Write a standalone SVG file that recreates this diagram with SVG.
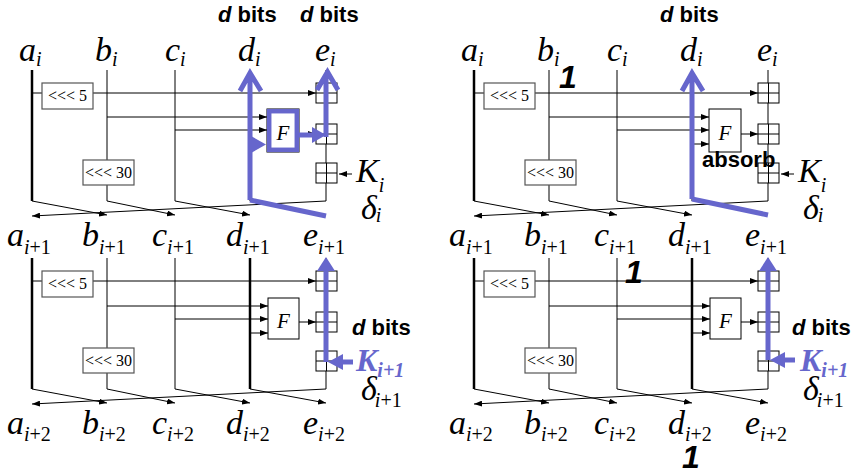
<svg xmlns="http://www.w3.org/2000/svg" width="858" height="474" viewBox="0 0 858 474">
<defs>
<marker id="ah" viewBox="0 0 8 6" refX="8" refY="3" markerWidth="8" markerHeight="6" markerUnits="userSpaceOnUse" orient="auto"><path d="M0,0 L8,3 L0,6 z" fill="#000"/></marker>
<style>
.ln{stroke:#000;stroke-width:1;fill:none}
.thk{stroke:#000;stroke-width:2.5;fill:none}
.ar{marker-end:url(#ah)}
.box{fill:#fff;stroke:#555;stroke-width:1.2}
.fb{fill:#fff;stroke:#000;stroke-width:1}
.blue{stroke:#6666cc;stroke-width:5;fill:none}
.bf{fill:#6666cc}
.lbl{font-family:"Liberation Serif",serif;font-style:italic;font-size:34px;fill:#000}
.sub{font-size:20px}
.up{font-style:normal}
.rot{font-family:"Liberation Serif",serif;font-size:16px;text-anchor:middle}
.ft{font-family:"Liberation Serif",serif;font-style:italic;font-size:21px;text-anchor:middle}
.bits{font-family:"Liberation Sans",Arial,sans-serif;font-weight:bold;font-size:22px}
.it{font-style:italic}
.one{font-family:"Liberation Sans",Arial,sans-serif;font-weight:bold;font-style:italic;font-size:32px}
.kb{font-family:"Liberation Serif",serif;font-weight:bold;font-style:italic;font-size:32px;fill:#6666cc}
</style>
</defs>
<rect width="858" height="474" fill="#fff"/>

<!-- ===== top-left panel ===== -->
<g id="p1">
 <g id="p1-wires">
  <path class="thk" d="M32,70 V201"/>
  <path class="ln" d="M107,70 V201 M175,70 V201 M250,70 V201 M326,70 V201"/>
  <path class="ln ar" d="M32,93 H316"/>
  <path class="ln ar" d="M107,117 H267"/>
  <path class="ln ar" d="M175,130 H267"/>
  <path class="ln ar" d="M299,134 H316"/>
  <path class="ln ar" d="M352,174 H339"/>
  <path class="ln ar" d="M32,201 L107,215"/>
  <path class="ln ar" d="M107,201 L175,215"/>
  <path class="ln ar" d="M175,201 L250,215"/>
  <path class="ln ar" d="M326,201 L32,216"/>
 </g>
 <g id="p1-rot5"><rect class="box" x="42" y="83" width="51" height="26"/><text class="rot" x="67.5" y="101">&lt;&lt;&lt; 5</text></g>
 <g id="p1-rot30"><rect class="box" x="83" y="160" width="51" height="25"/><text class="rot" x="108.5" y="178">&lt;&lt;&lt; 30</text></g>
 <g id="p1-F"><rect class="fb" x="267" y="109" width="32" height="43"/><text class="ft" x="283" y="140">F</text></g>
 <g id="p1-add1"><rect class="fb" x="316" y="83" width="21" height="20"/><path class="ln" d="M316,93 H337 M326.5,83 V103"/></g>
 <g id="p1-add2"><rect class="fb" x="316" y="124" width="21" height="20"/><path class="ln" d="M316,134 H337 M326.5,124 V144"/></g>
 <g id="p1-add3"><rect class="fb" x="316" y="163" width="21" height="20"/><path class="ln" d="M316,173 H337 M326.5,163 V183"/></g>
 <g id="p1-labels">
  <text class="lbl" x="19" y="61">a<tspan class="sub" dy="5">i</tspan></text>
  <text class="lbl" x="95" y="61">b<tspan class="sub" dy="5">i</tspan></text>
  <text class="lbl" x="165" y="61">c<tspan class="sub" dy="5">i</tspan></text>
  <text class="lbl" x="238" y="61">d<tspan class="sub" dy="5">i</tspan></text>
  <text class="lbl" x="315" y="61">e<tspan class="sub" dy="5">i</tspan></text>
  <text class="lbl" x="356" y="182">K<tspan class="sub" dy="10">i</tspan></text>
  <text class="lbl" x="361" y="219">δ<tspan class="sub" dy="3" dx="-1">i</tspan></text>
  <text class="bits" x="218" y="22"><tspan class="it">d</tspan> bits</text>
  <text class="bits" x="300" y="22"><tspan class="it">d</tspan> bits</text>
 </g>
 <g id="p1-path">
  <path class="blue" d="M250,200 V75 M240,91 L250,73 L261,91"/>
  <path class="blue" d="M250,200 L326,216"/>
  <rect x="269.2" y="111.2" width="27.6" height="38.6" fill="#fff" stroke="#6666cc" stroke-width="4.5"/>
  <text class="ft" x="283" y="140">F</text>
  <polygon class="bf" points="251,136 266,144.5 251,153"/>
  <path class="blue" d="M299,135 H313"/>
  <polygon class="bf" points="312,127 326,135 312,143"/>
  <path class="blue" d="M326,137 V75 M317,90 L327.5,72 L338,90"/>
 </g>
</g>

<!-- ===== top-right panel ===== -->
<g id="p2" transform="translate(442,0)">
 <g id="p2-wires">
  <path class="thk" d="M32,70 V201"/>
  <path class="ln" d="M107,70 V201 M175,70 V201 M250,70 V201 M326,70 V201"/>
  <path class="ln ar" d="M32,93 H316"/>
  <path class="ln ar" d="M107,117 H267"/>
  <path class="ln ar" d="M175,130 H267"/>
  <path class="ln ar" d="M250,144 H267"/>
  <path class="ln ar" d="M299,134 H316"/>
  <path class="ln ar" d="M352,174 H339"/>
  <path class="ln ar" d="M32,201 L107,215"/>
  <path class="ln ar" d="M107,201 L175,215"/>
  <path class="ln ar" d="M175,201 L250,215"/>
  <path class="ln ar" d="M326,201 L32,216"/>
 </g>
 <g id="p2-rot5"><rect class="box" x="42" y="83" width="51" height="26"/><text class="rot" x="67.5" y="101">&lt;&lt;&lt; 5</text></g>
 <g id="p2-rot30"><rect class="box" x="83" y="160" width="51" height="25"/><text class="rot" x="108.5" y="178">&lt;&lt;&lt; 30</text></g>
 <g id="p2-F"><rect class="fb" x="267" y="109" width="32" height="43"/><text class="ft" x="283" y="140">F</text></g>
 <g id="p2-add1"><rect class="fb" x="316" y="83" width="21" height="20"/><path class="ln" d="M316,93 H337 M326.5,83 V103"/></g>
 <g id="p2-add2"><rect class="fb" x="316" y="124" width="21" height="20"/><path class="ln" d="M316,134 H337 M326.5,124 V144"/></g>
 <g id="p2-add3"><rect class="fb" x="316" y="163" width="21" height="20"/><path class="ln" d="M316,173 H337 M326.5,163 V183"/></g>
 <g id="p2-labels">
  <text class="lbl" x="19" y="61">a<tspan class="sub" dy="5">i</tspan></text>
  <text class="lbl" x="95" y="61">b<tspan class="sub" dy="5">i</tspan></text>
  <text class="lbl" x="165" y="61">c<tspan class="sub" dy="5">i</tspan></text>
  <text class="lbl" x="238" y="61">d<tspan class="sub" dy="5">i</tspan></text>
  <text class="lbl" x="315" y="61">e<tspan class="sub" dy="5">i</tspan></text>
  <text class="lbl" x="356" y="182">K<tspan class="sub" dy="10">i</tspan></text>
  <text class="lbl" x="361" y="219">δ<tspan class="sub" dy="3" dx="-1">i</tspan></text>
  <text class="bits" x="218" y="22"><tspan class="it">d</tspan> bits</text>
  <text class="bits" x="260" y="167" font-size="23">absorb</text>
  <text class="one" x="117" y="88">1</text>
 </g>
 <g id="p2-path">
  <path class="blue" d="M250,199 V75 M240,91 L250,73 L261,91"/>
  <path class="blue" d="M250,199 L326,215"/>
 </g>
</g>

<!-- ===== bottom-left panel ===== -->
<g id="p3" transform="translate(0,188)">
 <g id="p3-wires">
  <path class="thk" d="M32,70 V201 M250,70 V201"/>
  <path class="ln" d="M107,70 V201 M175,70 V201 M326,70 V201"/>
  <path class="ln ar" d="M32,93 H316"/>
  <path class="ln ar" d="M107,118 H268"/>
  <path class="ln ar" d="M175,131 H268"/>
  <path class="ln ar" d="M250,145 H268"/>
  <path class="ln ar" d="M299,134 H316"/>
  <path class="ln ar" d="M32,201 L107,215"/>
  <path class="ln ar" d="M107,201 L175,215"/>
  <path class="ln ar" d="M175,201 L250,215"/>
  <path class="ln ar" d="M250,201 L326,215"/>
  <path class="ln ar" d="M326,201 L32,216"/>
 </g>
 <g id="p3-rot5"><rect class="box" x="42" y="83" width="51" height="26"/><text class="rot" x="67.5" y="101">&lt;&lt;&lt; 5</text></g>
 <g id="p3-rot30"><rect class="box" x="83" y="160" width="51" height="25"/><text class="rot" x="108.5" y="178">&lt;&lt;&lt; 30</text></g>
 <g id="p3-F"><rect class="fb" x="268" y="110" width="31" height="41"/><text class="ft" x="283.5" y="140">F</text></g>
 <g id="p3-add1"><rect class="fb" x="316" y="83" width="21" height="20"/><path class="ln" d="M316,93 H337 M326.5,83 V103"/></g>
 <g id="p3-add2"><rect class="fb" x="316" y="124" width="21" height="20"/><path class="ln" d="M316,134 H337 M326.5,124 V144"/></g>
 <g id="p3-add3"><rect class="fb" x="316" y="163" width="21" height="20"/><path class="ln" d="M316,173 H337 M326.5,163 V183"/></g>
 <g id="p3-labels">
  <text class="lbl" x="7" y="58">a<tspan class="sub" dy="8">i<tspan class="up">+1</tspan></tspan></text>
  <text class="lbl" x="82" y="58">b<tspan class="sub" dy="8">i<tspan class="up">+1</tspan></tspan></text>
  <text class="lbl" x="152" y="58">c<tspan class="sub" dy="8">i<tspan class="up">+1</tspan></tspan></text>
  <text class="lbl" x="226" y="58">d<tspan class="sub" dy="8">i<tspan class="up">+1</tspan></tspan></text>
  <text class="lbl" x="303" y="58">e<tspan class="sub" dy="8">i<tspan class="up">+1</tspan></tspan></text>
  <text class="lbl" x="7" y="246">a<tspan class="sub" dy="7">i<tspan class="up">+2</tspan></tspan></text>
  <text class="lbl" x="82" y="246">b<tspan class="sub" dy="7">i<tspan class="up">+2</tspan></tspan></text>
  <text class="lbl" x="152" y="246">c<tspan class="sub" dy="7">i<tspan class="up">+2</tspan></tspan></text>
  <text class="lbl" x="226" y="246">d<tspan class="sub" dy="7">i<tspan class="up">+2</tspan></tspan></text>
  <text class="lbl" x="303" y="246">e<tspan class="sub" dy="7">i<tspan class="up">+2</tspan></tspan></text>
  <text class="bits" x="352" y="147"><tspan class="it">d</tspan> bits</text>
  <text class="kb" x="356" y="183">K<tspan class="sub" dy="6">i+1</tspan></text>
  <text class="lbl" x="361" y="212">δ<tspan class="sub" dy="7" dx="-2">i<tspan class="up">+1</tspan></tspan></text>
 </g>
 <g id="p3-path">
  <path class="blue" d="M326,174 V80"/>
  <polygon class="bf" points="326,69 335,83 317,83"/>
  <path class="blue" stroke-width="6" d="M353,174 H342"/>
  <polygon class="bf" points="328,174 343,166 343,182"/>
 </g>
</g>

<!-- ===== bottom-right panel ===== -->
<g id="p4" transform="translate(442,188)">
 <g id="p4-wires">
  <path class="thk" d="M32,70 V201 M250,70 V201"/>
  <path class="ln" d="M107,70 V201 M175,70 V201 M326,70 V201"/>
  <path class="ln ar" d="M32,93 H316"/>
  <path class="ln ar" d="M107,118 H268"/>
  <path class="ln ar" d="M175,131 H268"/>
  <path class="ln ar" d="M250,145 H268"/>
  <path class="ln ar" d="M299,134 H316"/>
  <path class="ln ar" d="M32,201 L107,215"/>
  <path class="ln ar" d="M107,201 L175,215"/>
  <path class="ln ar" d="M175,201 L250,215"/>
  <path class="ln ar" d="M250,201 L326,215"/>
  <path class="ln ar" d="M326,201 L32,216"/>
 </g>
 <g id="p4-rot5"><rect class="box" x="42" y="83" width="51" height="26"/><text class="rot" x="67.5" y="101">&lt;&lt;&lt; 5</text></g>
 <g id="p4-rot30"><rect class="box" x="83" y="160" width="51" height="25"/><text class="rot" x="108.5" y="178">&lt;&lt;&lt; 30</text></g>
 <g id="p4-F"><rect class="fb" x="268" y="110" width="31" height="41"/><text class="ft" x="283.5" y="140">F</text></g>
 <g id="p4-add1"><rect class="fb" x="316" y="83" width="21" height="20"/><path class="ln" d="M316,93 H337 M326.5,83 V103"/></g>
 <g id="p4-add2"><rect class="fb" x="316" y="124" width="21" height="20"/><path class="ln" d="M316,134 H337 M326.5,124 V144"/></g>
 <g id="p4-add3"><rect class="fb" x="316" y="163" width="21" height="20"/><path class="ln" d="M316,173 H337 M326.5,163 V183"/></g>
 <g id="p4-labels">
  <text class="lbl" x="7" y="58">a<tspan class="sub" dy="8">i<tspan class="up">+1</tspan></tspan></text>
  <text class="lbl" x="82" y="58">b<tspan class="sub" dy="8">i<tspan class="up">+1</tspan></tspan></text>
  <text class="lbl" x="152" y="58">c<tspan class="sub" dy="8">i<tspan class="up">+1</tspan></tspan></text>
  <text class="lbl" x="226" y="58">d<tspan class="sub" dy="8">i<tspan class="up">+1</tspan></tspan></text>
  <text class="lbl" x="303" y="58">e<tspan class="sub" dy="8">i<tspan class="up">+1</tspan></tspan></text>
  <text class="lbl" x="7" y="246">a<tspan class="sub" dy="7">i<tspan class="up">+2</tspan></tspan></text>
  <text class="lbl" x="82" y="246">b<tspan class="sub" dy="7">i<tspan class="up">+2</tspan></tspan></text>
  <text class="lbl" x="152" y="246">c<tspan class="sub" dy="7">i<tspan class="up">+2</tspan></tspan></text>
  <text class="lbl" x="226" y="246">d<tspan class="sub" dy="7">i<tspan class="up">+2</tspan></tspan></text>
  <text class="lbl" x="303" y="246">e<tspan class="sub" dy="7">i<tspan class="up">+2</tspan></tspan></text>
  <text class="bits" x="350" y="147"><tspan class="it">d</tspan> bits</text>
  <text class="kb" x="358" y="183">K<tspan class="sub" dy="6">i+1</tspan></text>
  <text class="lbl" x="361" y="212">δ<tspan class="sub" dy="7" dx="-2">i<tspan class="up">+1</tspan></tspan></text>
  <text class="one" x="183" y="95">1</text>
  <text class="one" x="240" y="280">1</text>
 </g>
 <g id="p4-path">
  <path class="blue" d="M326,172 V80"/>
  <polygon class="bf" points="326,69 335,83 317,83"/>
  <path class="blue" stroke-width="6" d="M353,172 H342"/>
  <polygon class="bf" points="328,172 343,164 343,180"/>
 </g>
</g>
</svg>
